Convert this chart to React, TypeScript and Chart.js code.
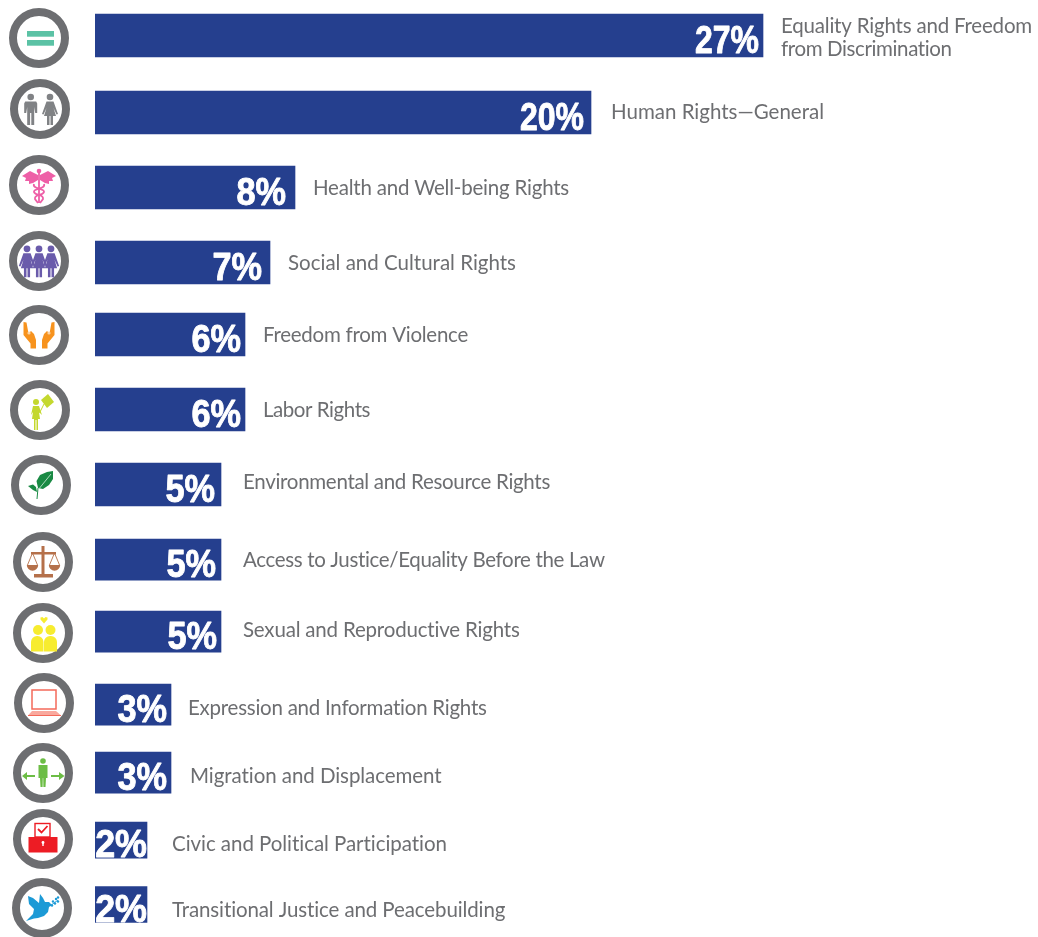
import React, { useEffect, useRef } from "react";
import { Chart, registerables } from "chart.js";

Chart.register(...registerables);

const categories = [
  ["Equality Rights and Freedom", "from Discrimination"],
  ["Human Rights—General"],
  ["Health and Well-being Rights"],
  ["Social and Cultural Rights"],
  ["Freedom from Violence"],
  ["Labor Rights"],
  ["Environmental and Resource Rights"],
  ["Access to Justice/Equality Before the Law"],
  ["Sexual and Reproductive Rights"],
  ["Expression and Information Rights"],
  ["Migration and Displacement"],
  ["Civic and Political Participation"],
  ["Transitional Justice and Peacebuilding"],
];
const values = [26.72, 19.84, 8, 7, 6, 6, 5.04, 5.04, 5.04, 3.04, 3.04, 2.08, 2.08];
const percentLabels = ["27%", "20%", "8%", "7%", "6%", "6%", "5%", "5%", "5%", "3%", "3%", "2%", "2%"];

// layout of the rows, in axis units (one unit = one nominal row)
const rowPositions = [0, 1.062, 2.097, 3.131, 4.124, 5.159, 6.193, 7.228, 8.221, 9.228, 10.166, 11.097, 11.986];
const rowThickness = [43, 43, 43, 43, 43, 43, 43, 41, 41, 41, 41, 36, 36];
const labelGap = [18, 20, 18, 18, 18, 18, 22, 22, 22, 17, 19, 25, 25];
const labelShift = [0, -1, 0, 0, 0, 0, -3, 0, -2, 3, 3, 4, 5];
const labelWidths = [[251, 171], [213], [256], [228], [205], [107], [307], [362], [277], [299], [252], [276], [334]];
const percentInset = [4, 7, 9, 8, 4, 4, 6, 5, 4, 4, 4, 0, 0];
const percentStretch = [0.82, 0.82, 0.88, 0.88, 0.88, 0.88, 0.88, 0.88, 0.88, 0.88, 0.88, 0.92, 0.92];
const iconCentres = [
  [39, 38], [40, 109], [39, 185], [39, 261], [39, 335], [40, 410], [41, 485],
  [43, 562], [43, 633], [44, 703], [43, 773], [43, 839], [42, 908],
];

type C = CanvasRenderingContext2D;

function poly(c: C, pts: number[][], color: string) {
  c.fillStyle = color;
  c.beginPath();
  pts.forEach((p, i) => (i ? c.lineTo(p[0], p[1]) : c.moveTo(p[0], p[1])));
  c.closePath();
  c.fill();
}
function disc(c: C, x: number, y: number, r: number, color: string) {
  c.fillStyle = color;
  c.beginPath();
  c.arc(x, y, r, 0, Math.PI * 2);
  c.fill();
}
function seg(c: C, x1: number, y1: number, x2: number, y2: number, w: number, color: string) {
  c.strokeStyle = color;
  c.lineWidth = w;
  c.lineCap = "butt";
  c.beginPath();
  c.moveTo(x1, y1);
  c.lineTo(x2, y2);
  c.stroke();
}
function man(c: C, x: number, color: string, s = 1) {
  disc(c, x, -12 * s, 3.3 * s, color);
  poly(c, [[x - 5.5 * s, -7.5 * s], [x + 5.5 * s, -7.5 * s], [x + 6.5 * s, -5.5 * s], [x + 6.5 * s, 4 * s], [x + 4.5 * s, 4 * s], [x + 3.5 * s, -2 * s], [x + 3.5 * s, 16 * s], [x + 0.6 * s, 16 * s], [x + 0.6 * s, 4 * s], [x - 0.6 * s, 4 * s], [x - 0.6 * s, 16 * s], [x - 3.5 * s, 16 * s], [x - 3.5 * s, -2 * s], [x - 4.5 * s, 4 * s], [x - 6.5 * s, 4 * s], [x - 6.5 * s, -5.5 * s]], color);
}
function woman(c: C, x: number, color: string, s = 1) {
  disc(c, x, -12 * s, 3.3 * s, color);
  poly(c, [[x - 3.5 * s, -7.5 * s], [x + 3.5 * s, -7.5 * s], [x + 8 * s, 5 * s], [x + 6.5 * s, 5.5 * s], [x + 3.5 * s, -1 * s], [x + 6 * s, 7 * s], [x + 3 * s, 7 * s], [x + 3 * s, 16 * s], [x + 0.5 * s, 16 * s], [x + 0.5 * s, 7 * s], [x - 0.5 * s, 7 * s], [x - 0.5 * s, 16 * s], [x - 3 * s, 16 * s], [x - 3 * s, 7 * s], [x - 6 * s, 7 * s], [x - 3.5 * s, -1 * s], [x - 6.5 * s, 5.5 * s], [x - 8 * s, 5 * s]], color);
}

const iconPainters: ((c: C) => void)[] = [
  // equality
  (c) => {
    c.fillStyle = "#5bc2a5";
    c.fillRect(-12, -7, 27, 5.7);
    c.fillRect(-12, 2, 27, 5.7);
  },
  // people
  (c) => {
    man(c, -9.3, "#808285");
    woman(c, 10, "#808285");
  },
  // caduceus
  (c) => {
    const pink = "#ee5fa7";
    for (const m of [-1, 1]) {
      poly(c, [[m * 1, -10], [m * 9, -14], [m * 17, -9], [m * 13, -7], [m * 14, -4], [m * 10, -4], [m * 10, -1], [m * 6, -2], [m * 1, -5]], pink);
    }
    disc(c, 0, -14, 2.3, pink);
    seg(c, 0, -12, 0, 18, 1.8, pink);
    c.strokeStyle = pink;
    c.lineWidth = 1.8;
    c.beginPath();
    c.moveTo(-5, -1);
    c.bezierCurveTo(-7, 4, 6, 3, 5, 7);
    c.bezierCurveTo(4, 11, -5, 9, -4, 14);
    c.lineTo(-1, 18);
    c.moveTo(5, -1);
    c.bezierCurveTo(7, 4, -6, 3, -5, 7);
    c.bezierCurveTo(-4, 11, 5, 9, 4, 14);
    c.lineTo(1, 18);
    c.stroke();
  },
  // three people
  (c) => {
    const p = "#6a5bab";
    woman(c, -12, p, 1.02);
    woman(c, 0, p, 1.02);
    woman(c, 12, p, 1.02);
  },
  // hands
  (c) => {
    const o = "#f7931e";
    for (const m of [-1, 1]) {
      poly(c, [[m * 15.5, -13], [m * 12.5, -12.5], [m * 10.5, -1.5], [m * 8, -4], [m * 5, -1], [m * 3, 5], [m * 3, 13.5], [m * 8.5, 13.5], [m * 8.5, 8.5], [m * 15.5, 0]], o);
      disc(c, m * 10, -2, 1.6, "#fbd3a5");
    }
  },
  // person with a sign
  (c) => {
    const l = "#c4d82e";
    disc(c, -4, -8, 3, l);
    poly(c, [[-7, -4], [-1, -4], [2, 5], [-1, 2], [0, 9], [-2, 9], [-2, 20], [-3.5, 20], [-3.5, 10], [-4.5, 10], [-4.5, 20], [-6, 20], [-6, 9], [-8, 9], [-7, 2], [-9, 5]], l);
    seg(c, -0.5, 3, 4, -6, 1, l);
    poly(c, [[1, -10], [8, -16], [14, -8], [7, -2]], l);
  },
  // leaves
  (c) => {
    const g = "#1a8a44";
    poly(c, [[-3, 3], [-4.5, -4], [-1, -10], [6, -13], [12, -14], [12, -6], [8, 0], [2, 4]], g);
    poly(c, [[-4, 7], [-8, 5], [-13, 1], [-8, -0.5], [-5, 2]], g);
    seg(c, -4, 14, -3, 3, 1, g);
    seg(c, -3, 5, 10, -11, 0.9, "#bfe3cc");
  },
  // scales
  (c) => {
    const b = "#b5704a";
    c.fillStyle = b;
    c.fillRect(-1.5, -16, 3, 30);
    c.fillRect(-9, 12, 19, 3.5);
    c.fillRect(-12, -10, 25, 2.5);
    for (const cx of [-10.5, 11.5]) {
      c.strokeStyle = b;
      c.lineWidth = 0.9;
      c.beginPath();
      c.moveTo(cx - 5, 3);
      c.lineTo(cx, -9);
      c.lineTo(cx + 5, 3);
      c.stroke();
      c.fillStyle = b;
      c.beginPath();
      c.arc(cx, 3, 5.7, 0, Math.PI);
      c.closePath();
      c.fill();
    }
  },
  // couple
  (c) => {
    const y = "#f7ec2f";
    disc(c, -5, -3, 5, y);
    disc(c, 7.5, -3, 5, y);
    c.fillStyle = y;
    c.beginPath();
    c.roundRect(-12, 3, 12.5, 15.5, [6, 6, 0, 0]);
    c.roundRect(1, 3, 13, 15.5, [6, 6, 0, 0]);
    c.fill();
    poly(c, [[1, -9.5], [-2.5, -13.5], [-2.5, -15.5], [-0.5, -16], [1, -14.5], [2.5, -16], [4.5, -15.5], [4.5, -13.5]], y);
  },
  // laptop
  (c) => {
    const r = "#f4695a";
    c.strokeStyle = r;
    c.lineWidth = 1.5;
    c.strokeRect(-12, -13, 24, 19);
    poly(c, [[-12, 8], [12, 8], [17, 12.5], [-16, 12.5]], "#f9a99e");
    seg(c, -16, 12.5, 17, 12.5, 1, r);
  },
  // migration
  (c) => {
    const g = "#6cbd45";
    disc(c, 0, -12, 2.8, g);
    poly(c, [[-4.5, -8], [4.5, -8], [4.5, 5], [3, 5], [2.5, 14], [0.4, 14], [0.2, 5], [-0.2, 5], [-0.4, 14], [-2.5, 14], [-3, 5], [-4.5, 5]], g);
    seg(c, -19, 3, -8, 3, 2, g);
    seg(c, 8, 3, 19, 3, 2, g);
    poly(c, [[-21, 3], [-16, -1], [-16, 7]], g);
    poly(c, [[21.5, 3], [16, -1], [16, 7]], g);
  },
  // ballot box
  (c) => {
    const r = "#ed1c24";
    c.fillStyle = r;
    c.fillRect(-14.5, -2, 29, 15.5);
    c.strokeStyle = r;
    c.lineWidth = 1.4;
    c.strokeRect(-8, -15.5, 15, 13.5);
    c.lineWidth = 1.8;
    c.beginPath();
    c.moveTo(-5, -10);
    c.lineTo(-1.5, -6.5);
    c.lineTo(4.5, -13);
    c.stroke();
    disc(c, 0, 3.5, 1.4, "#fff");
    c.fillStyle = "#fff";
    c.fillRect(-0.7, 3.5, 1.4, 3.5);
  },
  // dove
  (c) => {
    const b = "#1c9ad6";
    poly(c, [[-14, -12], [-9, -10], [-3, -5], [-2, -14], [1, -10], [3, -6], [7, -6], [10, -3], [7, -1], [6, 4], [2, 8], [-4, 10], [-8, 10.5], [-16, 13], [-9, 6], [-8, 1], [-13, -4]], b);
    c.strokeStyle = b;
    c.lineWidth = 0.9;
    c.beginPath();
    c.moveTo(8, -2);
    c.lineTo(16, -8);
    c.stroke();
    for (const [x, y] of [[11, -6.5], [13, -4.5], [14, -9], [16, -6.5], [10, -2.5], [16, -10.5]]) disc(c, x, y, 1.2, b);
  },
];

function fittedText(c: C, text: string, x: number, y: number, width: number) {
  (c as any).letterSpacing = "0px";
  const natural = c.measureText(text).width;
  (c as any).letterSpacing = `${(width - natural) / text.length}px`;
  c.fillText(text, x, y);
  (c as any).letterSpacing = "0px";
}

const overlay = {
  id: "overlay",
  afterDatasetsDraw(chart: any) {
    const c: C = chart.ctx;
    const xs = chart.scales.x;
    const ys = chart.scales.y;
    c.save();
    c.textBaseline = "alphabetic";
    categories.forEach((lines, i) => {
      const end = xs.getPixelForValue(values[i]);
      const mid = ys.getPixelForValue(rowPositions[i]);
      // value label
      c.save();
      c.translate(end - percentInset[i], mid + 17);
      c.scale(percentStretch[i], 1);
      c.fillStyle = "#ffffff";
      c.strokeStyle = "#ffffff";
      c.lineWidth = 0.9;
      c.lineJoin = "round";
      c.textAlign = "right";
      c.font = 'bold 39px "Liberation Sans"';
      c.fillText(percentLabels[i], 0, 0);
      c.strokeText(percentLabels[i], 0, 0);
      c.restore();
      // category label
      c.fillStyle = "#6d6e71";
      c.textAlign = "left";
      c.font = "400 20.5px Lato";
      const x = end + labelGap[i];
      if (lines.length === 2) {
        fittedText(c, lines[0], x, mid - 3, labelWidths[i][0]);
        fittedText(c, lines[1], x, mid + 20, labelWidths[i][1]);
      } else {
        fittedText(c, lines[0], x, mid + 7 + labelShift[i], labelWidths[i][0]);
      }
      // icon
      const [ix, iy] = iconCentres[i];
      c.strokeStyle = "#6d6e71";
      c.lineWidth = 8;
      c.beginPath();
      c.arc(ix, iy, 26, 0, Math.PI * 2);
      c.stroke();
      c.save();
      c.translate(ix, iy);
      iconPainters[i](c);
      c.restore();
    });
    c.restore();
  },
};

const rowsByThickness = Array.from(new Set(rowThickness));

export default function App() {
  const ref = useRef<HTMLCanvasElement>(null);
  useEffect(() => {
    document.body.style.margin = "0";
    const chart = new Chart(ref.current!, {
      type: "bar",
      data: {
        datasets: rowsByThickness.map((t) => ({
          label: `rows ${t}`,
          barThickness: t,
          grouped: false,
          backgroundColor: "#253f8e",
          borderWidth: 0,
          data: values
            .map((v, i) => ({ x: v, y: rowPositions[i], t: rowThickness[i] }))
            .filter((d) => d.t === t),
        })),
      } as any,
      options: {
        indexAxis: "y",
        responsive: false,
        animation: false,
        layout: { padding: { left: 95, right: 0, top: 0, bottom: 0 } },
        plugins: { legend: { display: false }, tooltip: { enabled: false } },
        scales: {
          x: { type: "linear", min: 0, max: 37.72, display: false },
          y: { type: "linear", reverse: true, min: -0.4897, max: 12.434, offset: false, display: false },
        },
      } as any,
      plugins: [overlay],
    });
    return () => chart.destroy();
  }, []);
  return <canvas ref={ref} width={1038} height={937} style={{ display: "block" }} />;
}
